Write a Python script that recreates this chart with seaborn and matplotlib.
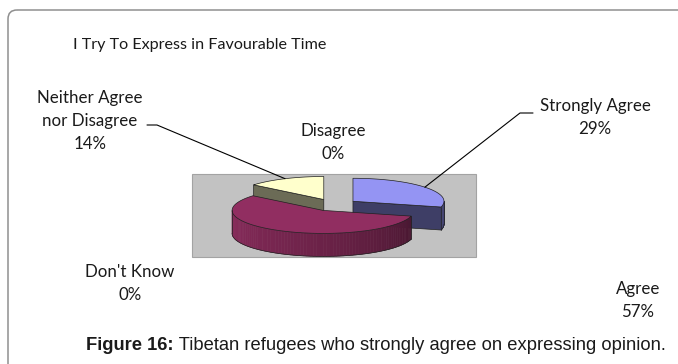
import numpy as np
import matplotlib
matplotlib.use("Agg")
import matplotlib.pyplot as plt
import seaborn as sns
from matplotlib.patches import Polygon, FancyBboxPatch, Rectangle
from matplotlib.colors import to_rgb

# Survey responses
categories = ["Strongly Agree", "Agree", "Neither Agree nor Disagree", "Disagree", "Don't Know"]
label_lines = [["Strongly Agree"], ["Agree"], ["Neither Agree", "nor Disagree"], ["Disagree"], ["Don't Know"]]
percent = [29, 57, 14, 0, 0]
slice_colors = ["#9494F3", "#912E61", "#FFFFCC", "#CCFFFF", "#660066"]

chart_title = "I Try To Express in Favourable Time"
caption_head = "Figure 16:"
caption_body = " Tibetan refugees who strongly agree on expressing opinion."

sns.set_theme(style="white")
plt.rcParams["font.family"] = ["Lato", "DejaVu Sans"]
INK = "#1a1a1a"

W, H = 678, 364
fig = plt.figure(figsize=(W / 100, H / 100), dpi=100)
ax = fig.add_axes([0, 0, 1, 1])
ax.set_xlim(0, W)
ax.set_ylim(H, 0)
ax.axis("off")

# outer chart frame
ax.add_patch(FancyBboxPatch((8, 10), 760, 420, boxstyle="round,pad=0,rounding_size=9",
                            fill=False, ec="#8f8f8f", lw=1.1))
# plot area
ax.add_patch(Rectangle((192, 174), 284, 83, fc="#C2C2C2", ec="#A3A3A3", lw=0.8))

# exploded 3-D pie, drawn as an oblique ellipse with a wall
cx, cy, rx, ry, depth, explode = 334.0, 205.0, 91.0, 23.0, 23.0, 24.0
k = ry / rx
total = float(sum(percent))


def shade(color, f):
    return tuple(np.clip(np.array(to_rgb(color)) * f, 0, 1))


def rim(c, t):
    t = np.radians(t)
    return (c[0] + rx * np.sin(t), c[1] - ry * np.cos(t))


slices = []
a = 0.0
for name, v, col in zip(categories, percent, slice_colors):
    span = 360.0 * v / total
    a0, a1 = a, a + span
    a = a1
    mid = np.radians((a0 + a1) / 2)
    c = (cx + explode * np.sin(mid), cy - explode * k * np.cos(mid))
    slices.append(dict(name=name, a0=a0, a1=a1, mid=(a0 + a1) / 2, c=c, color=col, v=v))

edge = dict(ec="#202020", lw=0.5)
for s in sorted([s for s in slices if s["v"] > 0], key=lambda s: s["c"][1]):
    c, a0, a1, col = s["c"], s["a0"], s["a1"], s["color"]
    # radial faces that turn toward the viewer
    for ang, vis in ((a0, np.sin(np.radians(a0)) < -1e-9), (a1, np.sin(np.radians(a1)) > 1e-9)):
        if vis:
            px, py = rim(c, ang)
            ax.add_patch(Polygon([c, (px, py), (px, py + depth), (c[0], c[1] + depth)],
                                 closed=True, fc=shade(col, 0.42), **edge))
    # curved outer wall on the front half
    lo, hi = max(a0, 90.0), min(a1, 270.0)
    if hi > lo:
        ts = np.linspace(lo, hi, 80)
        for t0, t1 in zip(ts[:-1], ts[1:]):
            f = 0.40 + 0.55 * ((0.5 * (t0 + t1) - 90) / 180) ** 0.7
            p0, p1 = rim(c, t0), rim(c, t1)
            ax.add_patch(Polygon([p0, p1, (p1[0], p1[1] + depth), (p0[0], p0[1] + depth)],
                                 closed=True, fc=shade(col, f), ec=shade(col, f), lw=0.4))
        bottom = np.array([rim(c, t) for t in ts])
        ax.plot(bottom[:, 0], bottom[:, 1] + depth, color="#202020", lw=0.5)
        for t in (lo, hi):
            px, py = rim(c, t)
            ax.plot([px, px], [py, py + depth], color="#202020", lw=0.5)
    # top face
    ts = np.linspace(a0, a1, 160)
    ax.add_patch(Polygon([c] + [rim(c, t) for t in ts], closed=True, fc=col, **edge))

# category labels
label_pos = [(595, 106), (638, 289), (90, 98), (333, 131), (130, 272)]
line_step = 23
label_texts = []
for lines, v, (lx, ly) in zip(label_lines, percent, label_pos):
    for j, line in enumerate(lines + [f"{v}%"]):
        label_texts.append(ax.text(lx, ly + j * line_step, line, ha="center", va="center",
                                   fontsize=12, color=INK))

# leader lines from labels to their slices
leaders = {0: [(533, 113), (520, 113)], 2: [(147, 125), (157, 125)]}
for i, knee in leaders.items():
    s = slices[i]
    end = rim(s["c"], s["mid"])
    xs = [p[0] for p in knee] + [end[0]]
    ys = [p[1] for p in knee] + [end[1]]
    ax.plot(xs, ys, color="black", lw=0.8)

title = ax.text(73, 45, chart_title, ha="left", va="center", fontsize=12, color=INK)

cap_a = ax.text(86, 346, caption_head, ha="left", va="center", fontsize=11,
                family="Liberation Sans", weight="bold", color=INK)
cap_b = ax.text(86, 346, caption_body, ha="left", va="center", fontsize=11,
                family="Liberation Sans", color=INK)

# size text to its intended extent
fig.canvas.draw()
r = fig.canvas.get_renderer()
ref = [t for t in label_texts if t.get_text() == "Strongly Agree"][0]
scale = 110.0 / ref.get_window_extent(r).width
for t in label_texts:
    t.set_fontsize(t.get_fontsize() * scale)
title.set_fontsize(12 * scale * 0.96)
wa = cap_a.get_window_extent(r).width
wb = cap_b.get_window_extent(r).width
cs = 576.0 / (wa + wb)
cap_a.set_fontsize(11 * cs)
cap_b.set_fontsize(11 * cs)
fig.canvas.draw()
cap_b.set_x(86 + cap_a.get_window_extent(fig.canvas.get_renderer()).width)

fig.savefig("out.png", dpi=100)
